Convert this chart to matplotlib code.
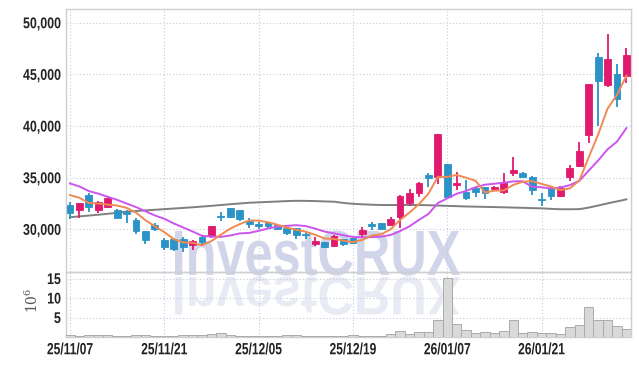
import matplotlib.pyplot as plt
import numpy as np
from matplotlib.textpath import TextPath
from matplotlib.patches import PathPatch
from matplotlib.font_manager import FontProperties
from matplotlib.transforms import Affine2D

dates = ['25/11/07', '25/11/10', '25/11/11', '25/11/12', '25/11/13', '25/11/14',
         '25/11/17', '25/11/18', '25/11/19', '25/11/20', '25/11/21', '25/11/24',
         '25/11/25', '25/11/26', '25/11/27', '25/11/28', '25/12/01', '25/12/02',
         '25/12/03', '25/12/04', '25/12/05', '25/12/08', '25/12/09', '25/12/10',
         '25/12/11', '25/12/12', '25/12/15', '25/12/16', '25/12/17', '25/12/18',
         '25/12/19', '25/12/22', '25/12/23', '25/12/24', '25/12/26', '25/12/29',
         '25/12/30', '26/01/02', '26/01/05', '26/01/06', '26/01/07', '26/01/08',
         '26/01/09', '26/01/12', '26/01/13', '26/01/14', '26/01/15', '26/01/16',
         '26/01/19', '26/01/20', '26/01/21', '26/01/22', '26/01/23', '26/01/26',
         '26/01/27', '26/01/28', '26/01/29', '26/01/30', '26/02/02', '26/02/03']

opens = [32350, 31870, 33310, 31870, 32190, 31870, 31710, 30910, 29790, 30430,
         28980, 29050, 29050, 28500, 29210, 29310, 31320, 32030, 31870, 30810,
         30490, 30650, 30430, 30110, 30110, 29560, 28570, 28730, 28340, 29050,
         29150, 29530, 30490, 30590, 30430, 31230, 32510, 33480, 35260, 35040,
         36320, 34260, 33650, 34030, 34070, 33940, 33650, 35430, 35490, 35040,
         32950, 34000, 33270, 35040, 36130, 39110, 46690, 43960, 45020, 44850]
highs = [32670, 32590, 33530, 32750, 33150, 31950, 31870, 31130, 29850, 30650,
         29150, 29150, 29240, 28950, 29400, 30350, 31650, 32050, 31900, 31070,
         30750, 30750, 30470, 30150, 30150, 29700, 29210, 28800, 29400, 29100,
         29200, 30270, 30670, 30610, 31150, 33330, 33900, 34620, 35480, 39230,
         36320, 35520, 34770, 34120, 34120, 34170, 35420, 37020, 35530, 35130,
         33490, 34070, 34230, 36230, 38470, 44050, 47020, 48870, 45990, 47590]
lows = [31000, 31070, 31710, 31550, 32030, 31050, 30650, 29560, 28600, 29790,
        28020, 27860, 27760, 28020, 28500, 29150, 30810, 31070, 30850, 30110,
        30010, 30120, 29950, 29420, 29080, 29080, 28410, 28150, 28250, 28410,
        28600, 29150, 29950, 30010, 30400, 30170, 32250, 33160, 34140, 34400,
        33170, 33810, 32850, 33170, 32950, 33720, 33430, 35170, 35030, 33330,
        32300, 32850, 33110, 34720, 36070, 38370, 39990, 43800, 41800, 44120]
closes = [31550, 32570, 32190, 32670, 32990, 31070, 31480, 29880, 28980, 30040,
          28280, 28090, 28280, 28820, 28760, 30330, 31200, 31230, 31000, 30490,
          30300, 30360, 30040, 29630, 29400, 29400, 28890, 28250, 29370, 28600,
          28670, 29950, 30360, 30010, 31000, 33240, 33480, 34460, 35000, 39230,
          33170, 34460, 33070, 33590, 33490, 34100, 34550, 35750, 35100, 33810,
          32790, 33270, 33980, 35970, 37570, 44050, 44340, 46530, 42600, 46850]

# moving averages as they appear on the chart
ma_short = [33310, 33050, 32550, 32500, 32390, 32300, 32080, 31620, 30880, 30290,
            29730, 29050, 28730, 28700, 28450, 28860, 29480, 30070, 30500, 30850,
            30840, 30680, 30440, 30160, 29950, 29770, 29470, 29110, 29060, 28900,
            28760, 28970, 29390, 29520, 30000, 30910, 31620, 32440, 33440, 35080,
            35070, 35260, 34990, 34700, 33560, 33740, 33760, 34300, 34600, 34660,
            34400, 34140, 33790, 33960, 34720, 36970, 39180, 41690, 43020, 44870]
ma_mid = [34440, 34150, 33700, 33450, 33150, 32850, 32500, 32150, 31750, 31340,
          31020, 30570, 30180, 29790, 29370, 29290, 29270, 29400, 29600, 29650,
          29850, 30080, 30250, 30330, 30400, 30310, 30070, 29780, 29610, 29420,
          29260, 29220, 29250, 29290, 29450, 29830, 30290, 30910, 31480, 32540,
          32990, 33440, 33710, 34070, 34320, 34410, 34510, 34640, 34650, 34110,
          34070, 33950, 34040, 34280, 34690, 35680, 36660, 37740, 38490, 39800]
ma_long = [31170, 31250, 31330, 31410, 31500, 31600, 31710, 31770, 31830, 31890,
           31950, 32010, 32070, 32130, 32200, 32270, 32350, 32430, 32500, 32570,
           32610, 32650, 32690, 32730, 32760, 32750, 32730, 32700, 32670, 32550,
           32470, 32420, 32380, 32350, 32350, 32350, 32350, 32350, 32330, 32300,
           32270, 32240, 32210, 32190, 32170, 32150, 32130, 32100, 32080, 32050,
           32030, 31980, 31940, 31940, 31950, 32100, 32300, 32510, 32700, 32900]

# volume in millions
volume = [0.4, 0.35, 0.5, 0.4, 0.45, 0.35, 0.3, 0.45, 0.5, 0.3,
          0.35, 0.3, 0.45, 0.4, 0.5, 0.7, 0.9, 0.4, 0.3, 0.25,
          0.2, 0.3, 0.25, 0.45, 0.5, 0.3, 0.2, 0.25, 0.3, 0.2,
          0.5, 0.35, 0.3, 0.3, 0.8, 1.5, 0.8, 1.3, 1.3, 4.4,
          15.05, 3.3, 1.8, 1.1, 1.3, 1.1, 1.5, 4.4, 0.95, 1.3,
          0.95, 0.95, 0.7, 2.5, 3.1, 7.6, 4.4, 4.4, 2.8, 2.0]

price_ticks = [30000, 35000, 40000, 45000, 50000]
vol_ticks = [5, 10, 15]
date_ticks = [0, 10, 20, 30, 40, 50]

RED = '#e01a6e'
BLUE = '#2b93c6'
GRID = '#c5c9de'
SPINE = '#cfcfcf'
W, H = 639, 366

fig = plt.figure(figsize=(W / 100, H / 100), dpi=100)
ax = fig.add_axes([66 / W, 1 - 272 / H, (630.5 - 66) / W, (272 - 9.3) / H])
axv = fig.add_axes([66 / W, 1 - 337 / H, (630.5 - 66) / W, (337 - 272) / H],
                   sharex=ax)
axv.patch.set_facecolor('none')

x = np.arange(len(dates))
o = np.array(opens)
c = np.array(closes)
cols = np.where(c >= o, RED, BLUE)

ax.vlines(x, lows, highs, colors=cols, lw=1.3, zorder=3)
ax.bar(x, np.abs(c - o), bottom=np.minimum(o, c), width=0.72, color=cols,
       edgecolor=cols, lw=0.6, zorder=4)
ax.plot(x, ma_long, color='#7f7f7f', lw=1.4, zorder=2)
ax.plot(x, ma_mid, color='#cc55ee', lw=1.4, zorder=5)
ax.plot(x, ma_short, color='#ef8a52', lw=1.4, zorder=6)

axv.bar(x, volume, width=1.0, color='#d9d9d9', edgecolor='#ababab', lw=0.7,
        zorder=3)

ax.set_xlim(-0.42, 59.43)
ax.set_ylim(25866, 51297)
axv.set_ylim(0, 16.67)
ax.set_yticks(price_ticks)
axv.set_yticks(vol_ticks)
axv.set_xticks(date_ticks)

for a in (ax, axv):
    a.grid(True, ls=(0, (1, 2)), color=GRID, lw=0.8)
    a.set_axisbelow(True)
    a.tick_params(length=0, labelbottom=False, labelleft=False)
    for s in a.spines.values():
        s.set_color(SPINE)
        s.set_linewidth(1.0)

# tick labels drawn as narrowed text paths (condensed look of the original)
lab_fp = FontProperties(family='Liberation Sans', weight='bold')
digit_h = TextPath((0, 0), '0', size=100, prop=lab_fp).get_extents().height


def put_label(text, xd, yd, ha, height, squeeze):
    tp = TextPath((0, 0), text, size=100, prop=lab_fp)
    e = tp.get_extents()
    s = height / digit_h
    w = (e.x1 - e.x0) * s * squeeze
    x0 = xd - w if ha == 'right' else xd - w / 2
    tr = Affine2D().translate(-e.x0, 0).scale(s * squeeze, s).translate(x0, yd - height / 2)
    fig.add_artist(PathPatch(tp, transform=tr, fc='#222222', ec='none', lw=0))


for v in price_ticks:
    yd = ax.transData.transform((0, v))[1]
    put_label('{:,.0f}'.format(v), 60.5, yd, 'right', 11, 0.8)
for v in vol_ticks:
    yd = axv.transData.transform((0, v))[1]
    put_label(str(v), 60.5, yd, 'right', 11, 0.8)
for i in date_ticks:
    xd = axv.transData.transform((i, 0))[0]
    put_label(dates[i], xd, H - 348.5, 'center', 11.5, 0.74)

fig.text(32 / W, 1 - 300 / H, r'$10^6$', rotation=90, ha='center', va='center',
         color='#555555', fontsize=10, math_fontfamily='dejavuserif')

# watermark and its reflection
fp = FontProperties(family='Liberation Sans', weight='bold')
tp = TextPath((0, 0), 'InvestCRUX', size=100, prop=fp)
ext = tp.get_extents()
cap = TextPath((0, 0), 'I', size=100, prop=fp).get_extents().height
sx = 285 / ext.width
sy = 44 / cap
tr = Affine2D().translate(-ext.x0, 0).scale(sx, sy).translate(175, H - 275)
ax.add_patch(PathPatch(tp, transform=tr, fc='#c2c8e2', ec='none', alpha=0.75,
                       zorder=1, clip_on=False))
tr2 = Affine2D().translate(-ext.x0, 0).scale(sx, -sy * 0.85).translate(175, H - 277)
axv.add_patch(PathPatch(tp, transform=tr2, fc='#c2c8e2', ec='none', alpha=0.35,
                        zorder=1, clip_on=False))

fig.savefig('out.png', dpi=100)
